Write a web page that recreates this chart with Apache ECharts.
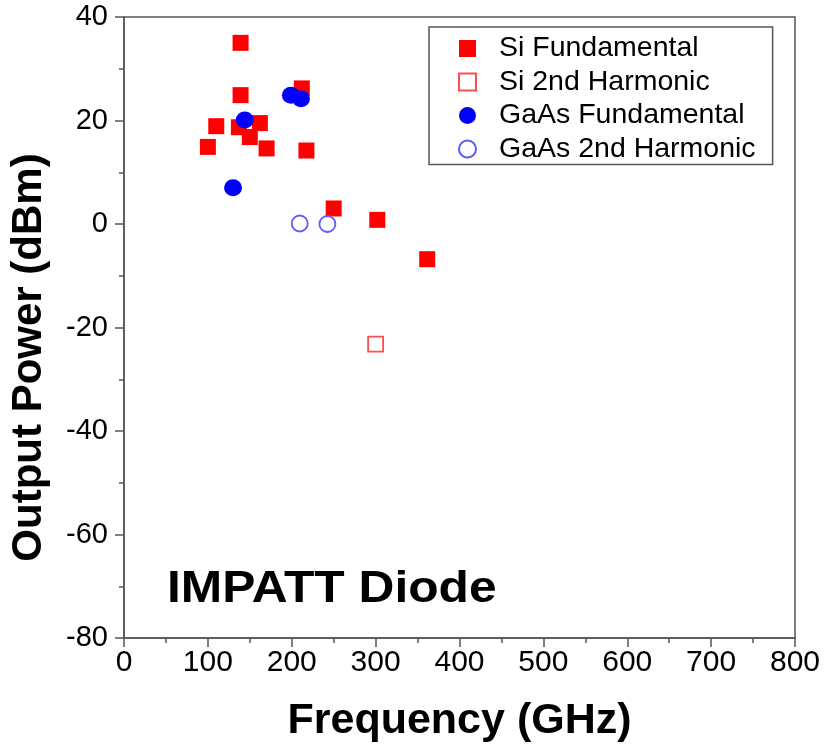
<!DOCTYPE html>
<html>
<head>
<meta charset="utf-8">
<script src="https://cdn.jsdelivr.net/npm/echarts@6/dist/echarts.min.js"></script>
<style>
html,body{margin:0;padding:0;background:#fff;}
#chart{width:827px;height:750px;}
</style>
</head>
<body>
<div id="chart"></div>
<script>
// Data (Frequency GHz, Output Power dBm)
const siFundamental = [
  [100, 14.9], [110, 18.9], [137, 18.7], [139, 35.0], [139, 24.9],
  [150, 16.8], [162, 19.5], [170, 14.6], [212, 26.2], [217.5, 14.2],
  [250, 3.0], [302, 0.8], [361.5, -6.8]
];
const si2ndHarmonic = [[300, -23.2]];
const gaasFundamental = [[130, 7.0], [144, 20.1], [199, 24.9], [211, 24.2]];
const gaas2ndHarmonic = [[209.5, 0.1], [242.5, 0.0]];
const seriesNames = ['Si Fundamental', 'Si 2nd Harmonic', 'GaAs Fundamental', 'GaAs 2nd Harmonic'];
const xTicks = {min: 0, max: 800, interval: 100};
const yTicks = {min: -80, max: 40, interval: 20};

const FONT = '"Liberation Sans", Arial, Helvetica, sans-serif';
const AX = '#555';
const chart = echarts.init(document.getElementById('chart'), null, {renderer: 'canvas'});

chart.setOption({
  backgroundColor: '#fff',
  animation: false,
  textStyle: {fontFamily: FONT},
  grid: {left: 123, right: 32, top: 17, bottom: 112, show: true, borderColor: AX, borderWidth: 1.5, backgroundColor: 'transparent'},
  xAxis: {
    type: 'value', min: xTicks.min, max: xTicks.max, interval: xTicks.interval,
    name: 'Frequency (GHz)', nameLocation: 'middle', nameGap: 62,
    nameTextStyle: {fontFamily: FONT, fontWeight: 'bold', fontSize: 43, color: '#000'},
    axisLine: {show: true, onZero: false, lineStyle: {color: AX, width: 1.5}},
    axisTick: {show: true, inside: false, length: 9, lineStyle: {color: AX, width: 1.5}},
    minorTick: {show: true, splitNumber: 2, length: 5, lineStyle: {color: AX, width: 1.5}},
    axisLabel: {fontFamily: FONT, fontSize: 30, color: '#000', margin: 10},
    splitLine: {show: false}
  },
  yAxis: {
    type: 'value', min: yTicks.min, max: yTicks.max, interval: yTicks.interval,
    name: 'Output Power (dBm)', nameLocation: 'middle', nameGap: 74,
    nameTextStyle: {fontFamily: FONT, fontWeight: 'bold', fontSize: 42, color: '#000', padding: [0, 60, 0, 0]},
    axisLine: {show: true, onZero: false, lineStyle: {color: AX, width: 1.5}},
    axisTick: {show: true, inside: false, length: 9, lineStyle: {color: AX, width: 1.5}},
    minorTick: {show: true, splitNumber: 2, length: 5, lineStyle: {color: AX, width: 1.5}},
    axisLabel: {fontFamily: FONT, fontSize: 29, color: '#000', margin: 16},
    splitLine: {show: false}
  },
  legend: {
    orient: 'vertical', left: 429, top: 27,
    padding: [7, 17, 1, 29],
    itemWidth: 17, itemHeight: 17, itemGap: 4.5,
    borderColor: AX, borderWidth: 1.5, backgroundColor: '#fff',
    textStyle: {fontFamily: FONT, fontSize: 28.5, color: '#000', lineHeight: 27, padding: [0, 0, 0, 18]},
    data: seriesNames
  },
  graphic: [{
    type: 'text', left: 167, top: 568, scaleX: 1.13,
    style: {text: 'IMPATT Diode', font: 'bold 44px ' + FONT, fill: '#000'}
  }],
  series: [
    {
      name: seriesNames[0], type: 'scatter', data: siFundamental,
      symbol: 'rect', symbolSize: 16,
      itemStyle: {color: '#ff0000', opacity: 1}
    },
    {
      name: seriesNames[1], type: 'scatter', data: si2ndHarmonic,
      symbol: 'rect', symbolSize: 15,
      itemStyle: {color: '#ffffff', borderColor: '#ff4d4d', borderWidth: 1.8, opacity: 1}
    },
    {
      name: seriesNames[2], type: 'scatter', data: gaasFundamental,
      symbol: 'circle', symbolSize: [18, 17],
      itemStyle: {color: '#0000ff', opacity: 1}
    },
    {
      name: seriesNames[3], type: 'scatter', data: gaas2ndHarmonic,
      symbol: 'circle', symbolSize: 16,
      itemStyle: {color: 'rgba(255,255,255,0)', borderColor: '#5c5cff', borderWidth: 1.8, opacity: 1}
    }
  ]
});
</script>
</body>
</html>
